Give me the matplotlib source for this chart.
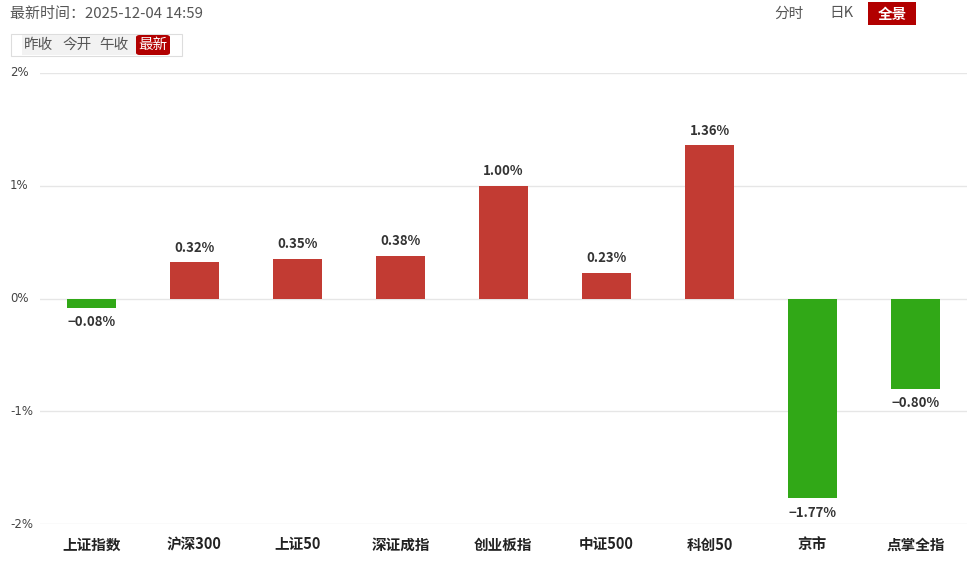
import matplotlib
matplotlib.use("Agg")
import matplotlib.pyplot as plt
from matplotlib.patches import FancyBboxPatch, Rectangle

plt.rcParams['font.family'] = ['Noto Sans CJK SC', 'DejaVu Sans']

categories = ["上证指数", "沪深300", "上证50", "深证成指", "创业板指", "中证500", "科创50", "京市", "点掌全指"]
values = [-0.08, 0.32, 0.35, 0.38, 1.00, 0.23, 1.36, -1.77, -0.80]
yticks = [-2, -1, 0, 1, 2]
ytick_labels = ["-2%", "-1%", "0%", "1%", "2%"]
header_text = "最新时间：2025-12-04 14:59"
left_buttons = ["昨收", "今开", "午收", "最新"]
right_buttons = ["分时", "日K", "全景"]

RED = "#C23B33"
GREEN = "#31A817"
W, H = 967, 561

fig = plt.figure(figsize=(W / 100, H / 100), dpi=100)
ax = fig.add_axes([40 / W, 37 / H, 927 / W, 451 / H])
x = list(range(len(categories)))
colors = [RED if v >= 0 else GREEN for v in values]
ax.bar(x, values, width=0.475, color=colors, zorder=3)
ax.set_xlim(-0.5, len(categories) - 0.5)
ax.set_ylim(-2, 2)
for t in yticks:
    ax.axhline(t, color="#e6e6e6", lw=1, zorder=1)
ax.set_yticks(yticks)
ax.set_yticklabels([])
for t, lab in zip(yticks, ytick_labels):
    ax.text(-0.5 - 30 / 103, t, lab, ha="left", va="center", fontsize=8.5,
            color="#444444", family=["DejaVu Sans"], transform=ax.transData, clip_on=False)
ax.tick_params(axis="both", length=0)
ax.set_xticks(x)
ax.set_xticklabels(categories, fontsize=10.5, fontweight="bold", color="#222222")
ax.tick_params(axis="x", pad=9)
for s in ax.spines.values():
    s.set_visible(False)

for xi, v in zip(x, values):
    if v >= 0:
        ax.annotate(f"{v:.2f}%", (xi, v), xytext=(0, 5.5), textcoords="offset points",
                    ha="center", va="bottom", fontsize=9.5, color="#333333", fontweight="semibold")
    else:
        ax.annotate(f"\u2212{abs(v):.2f}%", (xi, v), xytext=(0, -5.5), textcoords="offset points",
                    ha="center", va="top", fontsize=9.5, color="#333333", fontweight="semibold")

# header
fig.text(10 / W, 1 - 14 / H, header_text, ha="left", va="center", fontsize=10.8, color="#555555")

# left button group
fig.patches.append(Rectangle((11 / W, 1 - 56 / H), 171 / W, 22 / H, transform=fig.transFigure,
                             facecolor="white", edgecolor="#dddddd", lw=0.8))
fig.patches.append(Rectangle((22 / W, 1 - 55 / H), 114 / W, 20 / H, transform=fig.transFigure,
                             facecolor="#f2f2f2", edgecolor="none"))
lx = [39, 77, 114, 153]
for i, (lab, px) in enumerate(zip(left_buttons, lx)):
    if i == 3:
        fig.patches.append(FancyBboxPatch(((px - 17) / W, 1 - 55 / H), 34 / W, 20 / H,
                                          boxstyle="round,pad=0,rounding_size=0.004",
                                          transform=fig.transFigure, facecolor="#B20000",
                                          edgecolor="none"))
        fig.text(px / W, 1 - 45 / H, lab, ha="center", va="center", fontsize=10.5, color="white")
    else:
        fig.text(px / W, 1 - 45 / H, lab, ha="center", va="center", fontsize=10.5, color="#555555")

# right buttons
rx = [789, 841, 892]
for i, (lab, px) in enumerate(zip(right_buttons, rx)):
    if i == 2:
        fig.patches.append(Rectangle(((px - 24) / W, 1 - 25 / H), 48 / W, 23 / H,
                                     transform=fig.transFigure, facecolor="#B20000", edgecolor="none"))
        fig.text(px / W, 1 - 13.5 / H, lab, ha="center", va="center", fontsize=10.5,
                 color="white", fontweight="bold")
    else:
        fig.text(px / W, 1 - 13.5 / H, lab, ha="center", va="center", fontsize=10.5, color="#555555")

fig.savefig("out.png", dpi=100)
